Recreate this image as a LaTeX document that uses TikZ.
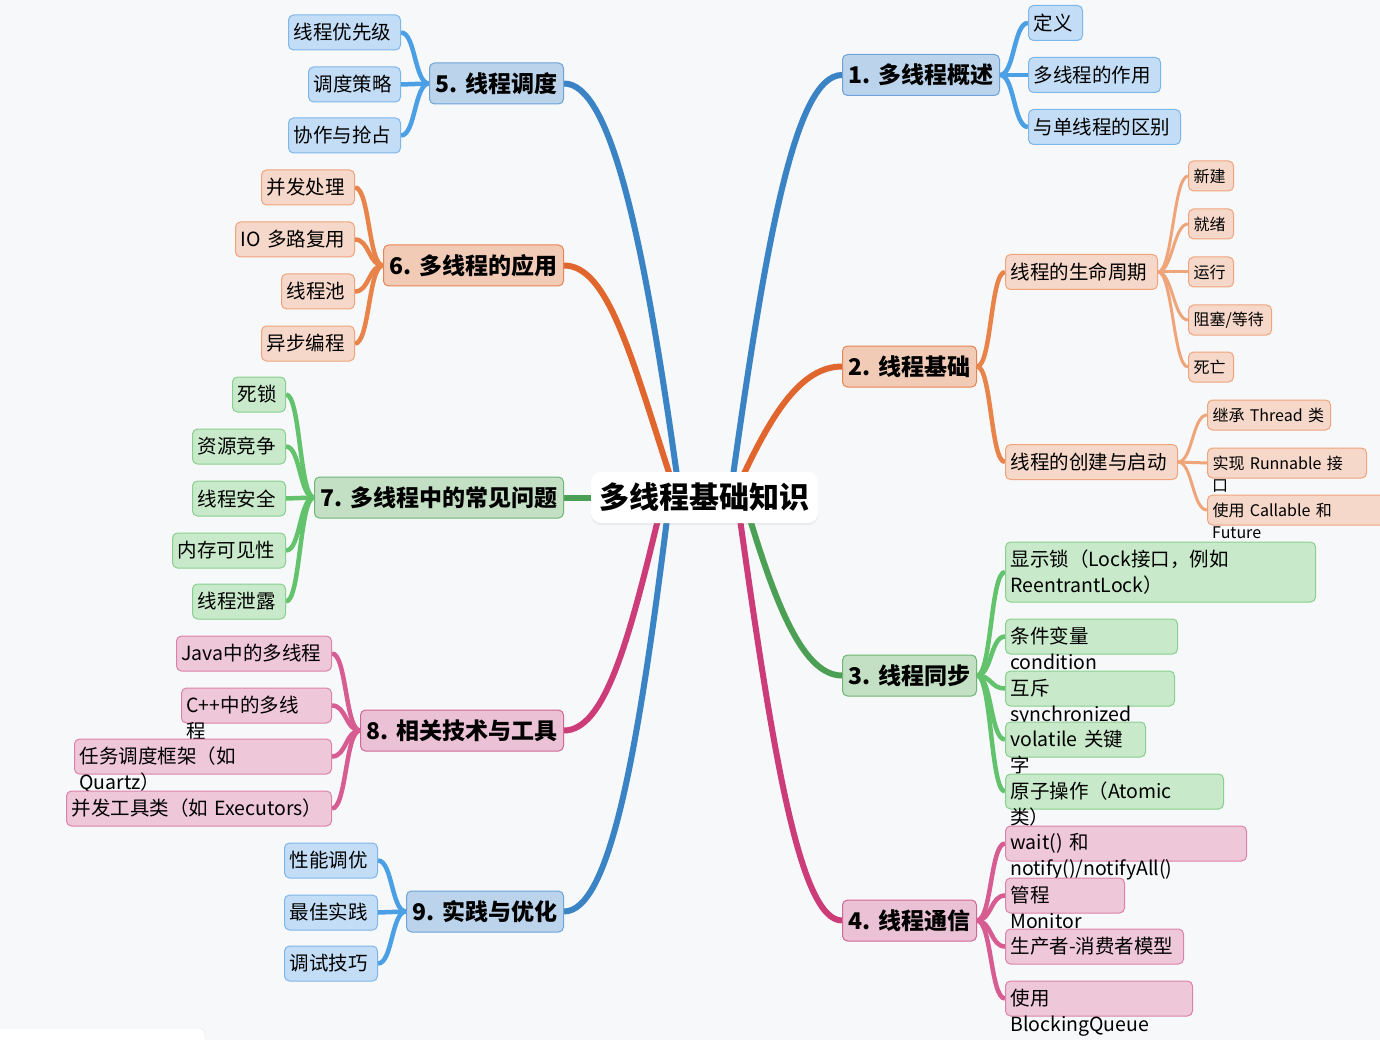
\documentclass[tikz,border=0pt]{standalone}
\usepackage{fontspec}
\setmainfont{Noto Sans CJK SC}
\usetikzlibrary{shadows}
\definecolor{bgc}{HTML}{F7F8FA}
\definecolor{bmf}{HTML}{BBD4EC}\definecolor{bmd}{HTML}{6CA3D8}
\definecolor{bcf}{HTML}{C3DDF6}\definecolor{bcd}{HTML}{7DB6EA}
\definecolor{omf}{HTML}{F2CBB7}\definecolor{omd}{HTML}{E58552}
\definecolor{ocf}{HTML}{F5D8C9}\definecolor{ocd}{HTML}{EFA47C}
\definecolor{gmf}{HTML}{C3E0C5}\definecolor{gmd}{HTML}{6CB873}
\definecolor{gcf}{HTML}{C8E9CA}\definecolor{gcd}{HTML}{88D08E}
\definecolor{pmf}{HTML}{EBC2D5}\definecolor{pmd}{HTML}{D26696}
\definecolor{pcf}{HTML}{EEC7D9}\definecolor{pcd}{HTML}{DC82AA}
\definecolor{eBm}{HTML}{3A83C4}\definecolor{eBc}{HTML}{4A9FE5}
\definecolor{eOm}{HTML}{E0662E}\definecolor{eOc}{HTML}{E8834A}\definecolor{eOs}{HTML}{F0A47A}
\definecolor{eGm}{HTML}{4CA055}\definecolor{eGc}{HTML}{63C36C}
\definecolor{ePm}{HTML}{CB3C78}\definecolor{ePc}{HTML}{D65C91}
\newcommand\fchild{\fontsize{19.5}{26}\selectfont}
\newcommand\fsmall{\fontsize{16}{22}\selectfont}
\newcommand\fmain{\fontsize{23}{28}\selectfont\bfseries}
\newcommand\fcenter{\fontsize{30}{36}\selectfont\bfseries}
\newcommand\rlink[3]{\draw[#1] (#2.east) .. controls +(14.5,0) and +(-14.5,0) .. (#3.west);}
\newcommand\llink[3]{\draw[#1] (#2.west) .. controls +(-14.5,0) and +(14.5,0) .. (#3.east);}
\pgfdeclarelayer{bg}
\pgfsetlayers{bg,main}
\begin{document}
\begin{tikzpicture}[x=1pt,y=-1pt,
  w/.code={\pgfmathsetmacro\tmpw{#1-10}\edef\tmpx{\noexpand\tikzset{minimum width=#1pt,text width=\tmpw pt}}\tmpx},
  mw/.style={minimum width=#1pt},
  box/.style={draw, rounded corners=5pt, line width=1pt, inner xsep=5pt, inner ysep=0pt, anchor=west, align=left, text=black},
  mainnode/.style={draw, rounded corners=5pt, line width=1pt, inner xsep=4pt, inner ysep=0pt, anchor=west, text=black, minimum height=41pt, font=\fmain},
  child/.style={box, minimum height=35pt, font=\fchild},
  smallc/.style={box, minimum height=30pt, font=\fsmall},
  mB/.style={mainnode, fill=bmf, draw=bmd},
  mO/.style={mainnode, fill=omf, draw=omd},
  mG/.style={mainnode, fill=gmf, draw=gmd},
  mP/.style={mainnode, fill=pmf, draw=pmd},
  cB/.style={child, fill=bcf, draw=bcd},
  cO/.style={child, fill=ocf, draw=ocd},
  sO/.style={smallc, fill=ocf, draw=ocd},
  cG/.style={child, fill=gcf, draw=gcd},
  cP/.style={child, fill=pcf, draw=pcd},
  ovf/.style={inner sep=0pt, anchor=base west, font=\fchild, text=black},
  ovfs/.style={inner sep=0pt, anchor=base west, font=\fsmall, text=black},
  emB/.style={draw=eBm, line width=6pt},
  emO/.style={draw=eOm, line width=6pt},
  emG/.style={draw=eGm, line width=6pt},
  emP/.style={draw=ePm, line width=6pt},
  ecB/.style={draw=eBc, line width=4.5pt},
  ecO/.style={draw=eOc, line width=4.5pt},
  esO/.style={draw=eOs, line width=3pt},
  ecG/.style={draw=eGc, line width=4.5pt},
  ecP/.style={draw=ePc, line width=4.5pt}
]
\begin{pgfonlayer}{bg}
\fill[bgc] (0,0) rectangle (1380,1040);
\end{pgfonlayer}
\useasboundingbox (0,0) rectangle (1380,1040);
\draw[draw={rgb,255:red,228;green,228;blue,236}, fill=white, rounded corners=6pt] (-10,1028) rectangle (205,1070);

% center
\node[fill=white, rounded corners=10pt, minimum width=227pt, minimum height=51pt, inner sep=0pt,
      font=\fcenter, text=black, drop shadow={opacity=0.10, shadow xshift=0pt, shadow yshift=-2pt}] (c) at (704.5,497.5) {多线程基础知识};

% main nodes
\node[mB, mw=157] (n1) at (842,75) {1. 多线程概述};
\node[mO, mw=134] (n2) at (842,366.5) {2. 线程基础};
\node[mG, mw=134] (n3) at (842,675.5) {3. 线程同步};
\node[mP, mw=134] (n4) at (842,920.5) {4. 线程通信};
\node[mB, mw=134] (n5) at (429,83.5) {5. 线程调度};
\node[mO, mw=180] (n6) at (383,265.5) {6. 多线程的应用};
\node[mG, mw=249] (n7) at (314,497.5) {7. 多线程中的常见问题};
\node[mP, mw=203] (n8) at (360,730.5) {8. 相关技术与工具};
\node[mB, mw=157] (n9) at (406,911.5) {9. 实践与优化};

% group 1
\node[cB, w=54] (a1) at (1028,23) {定义};
\node[cB, w=132] (a2) at (1028,75) {多线程的作用};
\node[cB, w=152] (a3) at (1028,127) {与单线程的区别};

% group 2
\node[cO, w=152] (o1) at (1005,272) {线程的生命周期};
\node[cO, w=172] (o2) at (1005,462) {线程的创建与启动};
\node[sO, w=45] (s1) at (1188,176) {新建};
\node[sO, w=45] (s2) at (1188,224) {就绪};
\node[sO, w=45] (s3) at (1188,272) {运行};
\node[sO, w=83] (s4) at (1188,320) {阻塞/等待};
\node[sO, w=45] (s5) at (1188,367) {死亡};
\node[sO, w=123] (r1) at (1207,415) {继承 Thread 类};
\node[sO, w=159] (r2) at (1207,463) {实现 Runnable 接};
\node[ovfs] (r2b) at ([xshift=5pt,yshift=-22pt]r2.base west) {口};
\node[sO, w=200] (r3) at (1207,510) {使用 Callable 和};
\node[ovfs] (r3b) at ([xshift=5pt,yshift=-22pt]r3.base west) {Future};

% group 3
\node[cG, w=310, minimum height=60pt] (g1) at (1005,572) {显示锁（Lock接口，例如\\ReentrantLock）};
\node[cG, w=172] (g2) at (1005,636.5) {条件变量};
\node[ovf] (g2b) at ([xshift=5pt,yshift=-26pt]g2.base west) {condition};
\node[cG, w=169] (g3) at (1005,688.5) {互斥};
\node[ovf] (g3b) at ([xshift=5pt,yshift=-26pt]g3.base west) {synchronized};
\node[cG, w=140] (g4) at (1005,739.5) {volatile 关键};
\node[ovf] (g4b) at ([xshift=5pt,yshift=-26pt]g4.base west) {字};
\node[cG, w=218] (g5) at (1005,791.5) {原子操作（Atomic};
\node[ovf] (g5b) at ([xshift=5pt,yshift=-26pt]g5.base west) {类）};

% group 4
\node[cP, w=241] (p1) at (1005,843.5) {wait() 和};
\node[ovf] (p1b) at ([xshift=5pt,yshift=-26pt]p1.base west) {notify()/notifyAll()};
\node[cP, w=119] (p2) at (1005,895.5) {管程};
\node[ovf] (p2b) at ([xshift=5pt,yshift=-26pt]p2.base west) {Monitor};
\node[cP, w=178] (p3) at (1005,946.5) {生产者-消费者模型};
\node[cP, w=187] (p4) at (1005,998.5) {使用};
\node[ovf] (p4b) at ([xshift=5pt,yshift=-26pt]p4.base west) {BlockingQueue};

% group 5
\node[cB, w=112] (b1) at (288,32.5) {线程优先级};
\node[cB, w=92] (b2) at (308,84.5) {调度策略};
\node[cB, w=112] (b3) at (288,135.5) {协作与抢占};

% group 6
\node[cO, w=93] (q1) at (261,187.5) {并发处理};
\node[cO, w=119] (q2) at (235,239.5) {IO 多路复用};
\node[cO, w=73] (q3) at (281,291.5) {线程池};
\node[cO, w=93] (q4) at (261,343.5) {异步编程};

% group 7
\node[cG, w=53] (k1) at (232,394.5) {死锁};
\node[cG, w=93] (k2) at (192,446.5) {资源竞争};
\node[cG, w=93] (k3) at (192,498.5) {线程安全};
\node[cG, w=113] (k4) at (172,550.5) {内存可见性};
\node[cG, w=93] (k5) at (192,601.5) {线程泄露};

% group 8
\node[cP, w=155] (m1) at (176,653.5) {Java中的多线程};
\node[cP, w=150] (m2) at (181,705.5) {C++中的多线};
\node[ovf] (m2b) at ([xshift=5pt,yshift=-26pt]m2.base west) {程};
\node[cP, w=257] (m3) at (74,756.5) {任务调度框架（如};
\node[ovf] (m3b) at ([xshift=5pt,yshift=-26pt]m3.base west) {Quartz）};
\node[cP, w=265] (m4) at (66,808.5) {并发工具类（如 Executors）};

% group 9
\node[cB, w=93] (t1) at (284,860.5) {性能调优};
\node[cB, w=93] (t2) at (284,912.5) {最佳实践};
\node[cB, w=93] (t3) at (284,963.5) {调试技巧};

\begin{pgfonlayer}{bg}
% center to main
\draw[emB] ([xshift=28.5pt,yshift=-4pt]c.north) .. controls +(35,-250) and +(-45,0) .. (n1.west);
\draw[emO] ([xshift=38.5pt,yshift=-4pt]c.north) .. controls +(30,-64) and +(-40,0) .. (n2.west);
\draw[emG] ([xshift=45.5pt,yshift=4pt]c.south) .. controls +(28,92) and +(-37,0) .. (n3.west);
\draw[emP] ([xshift=35.5pt,yshift=4pt]c.south) .. controls +(33,235) and +(-42,0) .. (n4.west);
\draw[emB] ([xshift=-27.5pt,yshift=-4pt]c.north) .. controls +(-35,-250) and +(45,0) .. (n5.east);
\draw[emO] ([xshift=-34.5pt,yshift=-4pt]c.north) .. controls +(-40,-124) and +(43,0) .. (n6.east);
\draw[emG] (c.west) -- (n7.east);
\draw[emP] ([xshift=-46.5pt,yshift=4pt]c.south) .. controls +(-30,125) and +(40,0) .. (n8.east);
\draw[emB] ([xshift=-37.5pt,yshift=4pt]c.south) .. controls +(-30,240) and +(45,0) .. (n9.east);
% group links
\rlink{ecB}{n1}{a1}\rlink{ecB}{n1}{a2}\rlink{ecB}{n1}{a3}
\rlink{ecO}{n2}{o1}\rlink{ecO}{n2}{o2}
\rlink{esO}{o1}{s1}\rlink{esO}{o1}{s2}\rlink{esO}{o1}{s3}\rlink{esO}{o1}{s4}\rlink{esO}{o1}{s5}
\rlink{esO}{o2}{r1}\rlink{esO}{o2}{r2}\rlink{esO}{o2}{r3}
\rlink{ecG}{n3}{g1}\rlink{ecG}{n3}{g2}\rlink{ecG}{n3}{g3}\rlink{ecG}{n3}{g4}\rlink{ecG}{n3}{g5}
\rlink{ecP}{n4}{p1}\rlink{ecP}{n4}{p2}\rlink{ecP}{n4}{p3}\rlink{ecP}{n4}{p4}
\llink{ecB}{n5}{b1}\llink{ecB}{n5}{b2}\llink{ecB}{n5}{b3}
\llink{ecO}{n6}{q1}\llink{ecO}{n6}{q2}\llink{ecO}{n6}{q3}\llink{ecO}{n6}{q4}
\llink{ecG}{n7}{k1}\llink{ecG}{n7}{k2}\llink{ecG}{n7}{k3}\llink{ecG}{n7}{k4}\llink{ecG}{n7}{k5}
\llink{ecP}{n8}{m1}\llink{ecP}{n8}{m2}\llink{ecP}{n8}{m3}\llink{ecP}{n8}{m4}
\llink{ecB}{n9}{t1}\llink{ecB}{n9}{t2}\llink{ecB}{n9}{t3}
\end{pgfonlayer}
\end{tikzpicture}
\end{document}
